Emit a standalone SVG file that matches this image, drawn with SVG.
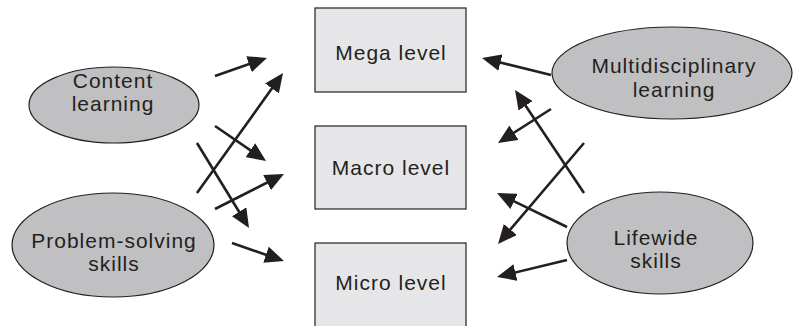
<svg xmlns="http://www.w3.org/2000/svg" width="794" height="326" viewBox="0 0 794 326">
  <style>
    .oval { fill: #c0c0c3; stroke: #231f20; stroke-width: 1.2; }
    .box { fill: #e6e6e8; stroke: #231f20; stroke-width: 1.2; }
    .label { font-family: "Liberation Sans", Arial, sans-serif; font-size: 21px; letter-spacing: 1px; fill: #231f20; text-anchor: middle; }
    .link { stroke: #231f20; stroke-width: 2.6; fill: none; marker-end: url(#head); }
  </style>
  <defs>
    <marker id="head" markerUnits="userSpaceOnUse" markerWidth="19" markerHeight="17" refX="9" refY="8.5" orient="auto">
      <path d="M0,0 L19,8.5 L0,17 z" fill="#231f20"/>
    </marker>
  </defs>

  <!-- level boxes -->
  <g id="mega">
    <rect class="box" x="315" y="8" width="151" height="84"/>
    <text class="label" x="391" y="60">Mega level</text>
  </g>
  <g id="macro">
    <rect class="box" x="315" y="126" width="151" height="83"/>
    <text class="label" x="391" y="175">Macro level</text>
  </g>
  <g id="micro">
    <rect class="box" x="315" y="243" width="151" height="90"/>
    <text class="label" x="391" y="290">Micro level</text>
  </g>

  <!-- learning outcomes -->
  <g id="content">
    <ellipse class="oval" cx="114" cy="105" rx="85" ry="38"/>
    <text class="label" x="113" y="88">Content</text>
    <text class="label" x="113" y="111">learning</text>
  </g>
  <g id="problem">
    <ellipse class="oval" cx="113" cy="245" rx="101" ry="52"/>
    <text class="label" x="114" y="248">Problem-solving</text>
    <text class="label" x="114" y="271">skills</text>
  </g>
  <g id="multi">
    <ellipse class="oval" cx="672" cy="73" rx="120" ry="46"/>
    <text class="label" x="674" y="73">Multidisciplinary</text>
    <text class="label" x="674" y="97">learning</text>
  </g>
  <g id="lifewide">
    <ellipse class="oval" cx="660" cy="243" rx="93" ry="51"/>
    <text class="label" x="656" y="245">Lifewide</text>
    <text class="label" x="656" y="268">skills</text>
  </g>

  <!-- connectors -->
  <g id="connectors">
    <line class="link" x1="215" y1="76" x2="257.5" y2="61.2"/>
    <line class="link" x1="197" y1="193" x2="277.2" y2="81.1"/>
    <line class="link" x1="215" y1="126" x2="257.8" y2="155.3"/>
    <line class="link" x1="197" y1="143" x2="243.8" y2="219.5"/>
    <line class="link" x1="215" y1="209" x2="275.1" y2="178.5"/>
    <line class="link" x1="232" y1="243" x2="274.5" y2="257.7"/>
    <line class="link" x1="551" y1="75" x2="491.7" y2="60.4"/>
    <line class="link" x1="584" y1="193" x2="520.6" y2="98.3"/>
    <line class="link" x1="551" y1="109" x2="506.4" y2="137.6"/>
    <line class="link" x1="584" y1="143" x2="504.5" y2="236.4"/>
    <line class="link" x1="567" y1="227" x2="506.0" y2="197.4"/>
    <line class="link" x1="567" y1="260" x2="506.7" y2="274.6"/>
  </g>
</svg>
